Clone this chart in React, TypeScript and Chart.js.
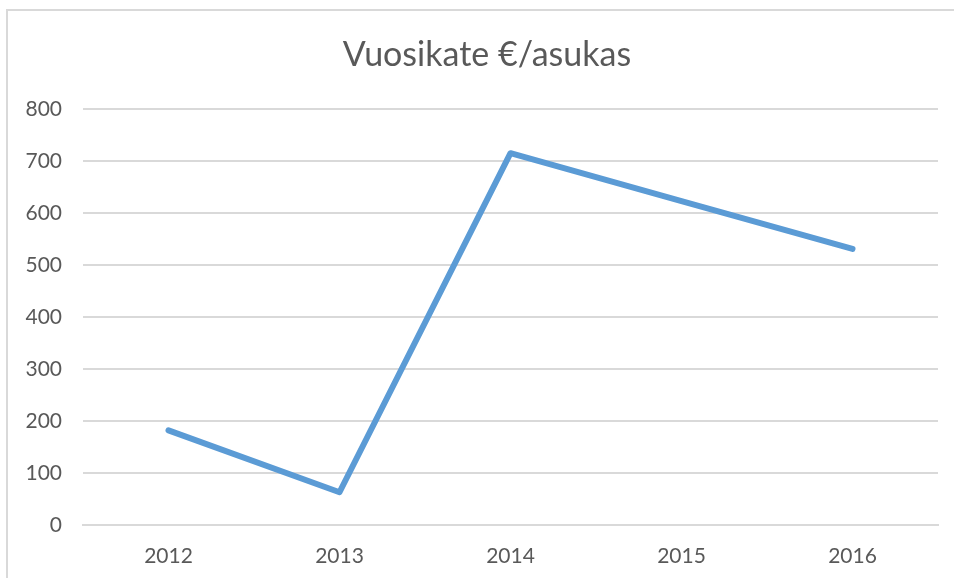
import React, { useEffect, useRef } from "react";
import { Chart, registerables } from "chart.js";

Chart.register(...registerables);

const TITLE = "Vuosikate €/asukas";
const YEARS = ["2012", "2013", "2014", "2015", "2016"];
const VALUES = [182, 63, 715, 623, 531];
const Y_MIN = 0;
const Y_MAX = 800;
const Y_STEP = 100;

const FONT = "Lato, 'Open Sans', 'Liberation Sans', sans-serif";
const TEXT = "#595959";
const GRID = "#d9d9d9";

const titlePlugin = {
  id: "centeredTitle",
  afterDraw(chart: any) {
    const ctx = chart.ctx;
    ctx.save();
    ctx.font = `normal 34px ${FONT}`;
    ctx.fillStyle = TEXT;
    ctx.textAlign = "center";
    ctx.textBaseline = "middle";
    ctx.fillText(TITLE, 487, 55);
    ctx.restore();
  },
};

export default function App() {
  const ref = useRef<HTMLCanvasElement>(null);

  useEffect(() => {
    document.body.style.margin = "0";
    const canvas = ref.current!;
    const chart = new Chart(canvas, {
      type: "line",
      data: {
        labels: YEARS,
        datasets: [
          {
            data: VALUES,
            borderColor: "#5b9bd5",
            backgroundColor: "#5b9bd5",
            borderWidth: 6,
            borderCapStyle: "round",
            borderJoinStyle: "round",
            pointRadius: 0,
            pointHoverRadius: 0,
            tension: 0,
            fill: false,
          },
        ],
      },
      plugins: [titlePlugin],
      options: {
        animation: false,
        responsive: false,
        maintainAspectRatio: false,
        layout: { padding: { left: 0, right: 16, top: 109, bottom: 0 } },
        plugins: {
          legend: { display: false },
          tooltip: { enabled: false },
          title: { display: false },
        },
        scales: {
          x: {
            offset: true,
            grid: { display: false, drawTicks: false },
            border: { display: true, color: GRID, width: 2 },
            ticks: {
              color: TEXT,
              font: { family: FONT, size: 21, lineHeight: 1.2 },
              padding: 19,
              maxRotation: 0,
            },
            afterFit: (s: any) => {
              s.height = 53;
            },
          },
          y: {
            min: Y_MIN,
            max: Y_MAX,
            grid: { color: GRID, lineWidth: 2, drawTicks: false },
            border: { display: false },
            ticks: {
              stepSize: Y_STEP,
              color: TEXT,
              font: { family: FONT, size: 21, lineHeight: 1.2 },
              padding: 21,
            },
            afterFit: (s: any) => {
              s.width = 83;
            },
          },
        },
      },
    });
    return () => chart.destroy();
  }, []);

  return (
    <div
      style={{
        position: "fixed",
        left: 0,
        top: 0,
        width: 954,
        height: 578,
        overflow: "hidden",
        background: "#ffffff",
      }}
    >
      <div
        style={{
          position: "absolute",
          left: 6,
          top: 9,
          width: 1100,
          height: 800,
          border: "2px solid #d9d9d9",
          boxSizing: "border-box",
        }}
      />
      <canvas
        ref={ref}
        width={954}
        height={578}
        style={{ position: "absolute", left: 0, top: 0, width: 954, height: 578 }}
      />
    </div>
  );
}
